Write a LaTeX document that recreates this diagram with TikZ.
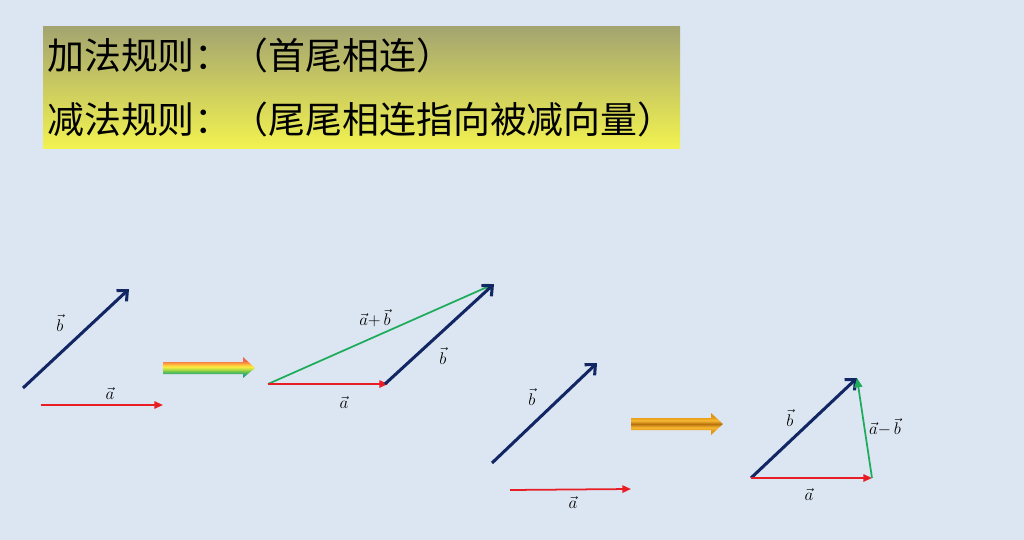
\documentclass[tikz,border=0pt]{standalone}
\usepackage{fontspec}
\newfontfamily\cjk{Noto Sans CJK SC}
\usetikzlibrary{arrows.meta}
\definecolor{bgblue}{RGB}{220,230,242}
\definecolor{navyvec}{RGB}{18,38,100}
\definecolor{redvec}{RGB}{232,30,36}
\definecolor{greenvec}{RGB}{30,172,92}
\definecolor{bantop}{RGB}{163,164,112}
\definecolor{banbot}{RGB}{242,242,80}
\pgfdeclareverticalshading{rainbow}{100bp}{rgb(0bp)=(0.1,0.58,0.6); rgb(25bp)=(0.1,0.58,0.6); rgb(33bp)=(0.15,0.65,0.5); rgb(40bp)=(0.4,0.76,0.3); rgb(47bp)=(0.78,0.88,0.25); rgb(52bp)=(1,0.92,0.25); rgb(57bp)=(1,0.75,0.25); rgb(62bp)=(0.98,0.55,0.25); rgb(66bp)=(0.95,0.4,0.3); rgb(100bp)=(0.95,0.4,0.3)}
\pgfdeclareverticalshading{goldbar}{100bp}{rgb(0bp)=(0.85,0.55,0.05); rgb(25bp)=(0.85,0.55,0.05); rgb(35bp)=(0.9,0.6,0.08); rgb(42bp)=(0.97,0.72,0.2); rgb(50bp)=(0.72,0.45,0.05); rgb(58bp)=(0.97,0.72,0.2); rgb(65bp)=(0.9,0.6,0.08); rgb(75bp)=(0.85,0.55,0.05); rgb(100bp)=(0.85,0.55,0.05)}
\begin{document}
\begin{tikzpicture}[x=0.3mm,y=-0.3mm,
    vecb/.style={navyvec,line width=2.6pt,-{Straight Barb[length=2.4mm,width=4.4mm]}},
    veca/.style={redvec,line width=1.5pt,-{Triangle[length=2.6mm,width=2.2mm]}},
    vecs/.style={greenvec,line width=1.5pt,-{Triangle[length=2.8mm,width=2.4mm]}},
    lbl/.style={font=\fontsize{14}{16}\selectfont,inner sep=0pt},
    rule/.style={anchor=west,inner sep=0pt,font=\cjk\fontsize{31.5}{36}\selectfont}]
  \fill[bgblue] (0,0) rectangle (1024,540);
  \useasboundingbox (0,0) rectangle (1024,540);
  % banner
  \shade[top color=bantop,bottom color=banbot] (43,26) rectangle (680,148);
  \node[rule] (add) at (47,55) {加法规则：（首尾相连）};
  \node[rule] (sub) at (47,119) {减法规则：（尾尾相连指向被减向量）};
  % end points
  \path
    (23,388) coordinate (b1s)  (129,289) coordinate (b1e)
    (41,405) coordinate (a1s)  (163,405) coordinate (a1e)
    (268,384) coordinate (a2s) (388,384) coordinate (a2e)
    (385,384) coordinate (b2s) (494,284) coordinate (b2e)
    (492,463) coordinate (b3s) (597,363) coordinate (b3e)
    (510,490) coordinate (a3s) (631,489) coordinate (a3e)
    (751,478) coordinate (b4s) (857,378) coordinate (b4e)
    (872,478) coordinate (a4e);
  \draw[vecb] (b1s) -- (b1e);
  \draw[veca] (a1s) -- (a1e);
  \draw[vecs] (a2s) -- (b2e);
  \draw[veca] (a2s) -- (a2e);
  \draw[vecb] (b2s) -- (b2e);
  \draw[vecb] (b3s) -- (b3e);
  \draw[veca] (a3s) -- (a3e);
  \draw[vecb] (b4s) -- (b4e);
  \draw[veca] (b4s) -- (a4e);
  \draw[vecs] (a4e) -- (b4e);
  % labels
  \draw
    (60,323) node[lbl] (lb1) {$\vec{b}$}
    (110,393) node[lbl] (la1) {$\vec{a}$}
    (344,402) node[lbl] (la2) {$\vec{a}$}
    (443,356) node[lbl] (lb2) {$\vec{b}$}
    (375,318) node[lbl] (lsum) {$\vec{a}{+}\,\vec{b}$}
    (532,397) node[lbl] (lb3) {$\vec{b}$}
    (573,502) node[lbl] (la3) {$\vec{a}$}
    (790,418) node[lbl] (lb4) {$\vec{b}$}
    (809,494) node[lbl] (la4) {$\vec{a}$}
    (885,427) node[lbl] (ldiff) {$\vec{a}{-}\,\vec{b}$};
  % big arrows
  \shade[shading=rainbow] (163,362) -- (243,362) -- (243,357) -- (255,368)
    -- (243,378) -- (243,374) -- (163,374) -- cycle;
  \shade[shading=goldbar] (631,418) -- (711,418) -- (711,413) -- (723,424)
    -- (711,435) -- (711,430) -- (631,430) -- cycle;
\end{tikzpicture}
\end{document}
